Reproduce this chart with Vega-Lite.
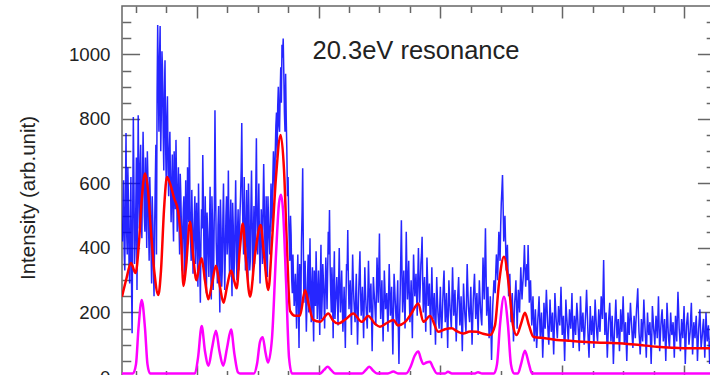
{
  "$schema": "https://vega.github.io/schema/vega-lite/v6.json",
  "width": 593,
  "height": 371,
  "autosize": {"type": "none"},
  "padding": {"left": 122, "top": 6, "right": 0, "bottom": 0},
  "background": "white",
  "config": {
    "font": "Liberation Sans",
    "view": {"stroke": "#666", "strokeWidth": 1.5}
  },
  "title": {
    "text": "20.3eV resonance",
    "orient": "top",
    "anchor": "middle",
    "frame": "group",
    "offset": -79.4,
    "baseline": "alphabetic",
    "dx": -2.5,
    "font": "Liberation Sans",
    "fontSize": 25.5,
    "fontWeight": "normal",
    "color": "#222"
  },
  "datasets": {
    "raw": [
      {"e":11.39,"v":420},{"e":11.395,"v":500},{"e":11.40,"v":610},{"e":11.405,"v":380},{"e":11.41,"v":330},{"e":11.415,"v":560},{"e":11.42,"v":756},{"e":11.425,"v":450},{"e":11.43,"v":380},{"e":11.435,"v":650},
      {"e":11.44,"v":540},{"e":11.445,"v":340},{"e":11.45,"v":290},{"e":11.455,"v":480},{"e":11.46,"v":620},{"e":11.465,"v":300},{"e":11.47,"v":136},{"e":11.475,"v":520},{"e":11.48,"v":806},{"e":11.485,"v":600},
      {"e":11.49,"v":350},{"e":11.495,"v":410},{"e":11.50,"v":520},{"e":11.505,"v":680},{"e":11.51,"v":270},{"e":11.515,"v":560},{"e":11.52,"v":811},{"e":11.525,"v":590},{"e":11.53,"v":460},{"e":11.535,"v":650},
      {"e":11.54,"v":720},{"e":11.545,"v":520},{"e":11.55,"v":430},{"e":11.555,"v":600},{"e":11.56,"v":760},{"e":11.565,"v":640},{"e":11.57,"v":500},{"e":11.575,"v":450},{"e":11.58,"v":680},{"e":11.585,"v":560},
      {"e":11.59,"v":400},{"e":11.595,"v":700},{"e":11.60,"v":610},{"e":11.605,"v":470},{"e":11.61,"v":360},{"e":11.615,"v":620},{"e":11.62,"v":540},{"e":11.625,"v":400},{"e":11.63,"v":290},{"e":11.635,"v":560},
      {"e":11.64,"v":480},{"e":11.645,"v":330},{"e":11.65,"v":250},{"e":11.655,"v":470},{"e":11.66,"v":600},{"e":11.665,"v":720},{"e":11.67,"v":380},{"e":11.675,"v":880},{"e":11.68,"v":1091},{"e":11.685,"v":920},
      {"e":11.69,"v":760},{"e":11.695,"v":990},{"e":11.70,"v":1088},{"e":11.705,"v":700},{"e":11.71,"v":820},{"e":11.715,"v":1010},{"e":11.72,"v":950},{"e":11.725,"v":760},{"e":11.73,"v":640},{"e":11.735,"v":880},
      {"e":11.74,"v":982},{"e":11.745,"v":720},{"e":11.75,"v":600},{"e":11.755,"v":800},{"e":11.76,"v":870},{"e":11.765,"v":640},{"e":11.77,"v":560},{"e":11.775,"v":700},{"e":11.78,"v":760},{"e":11.785,"v":600},
      {"e":11.79,"v":480},{"e":11.795,"v":580},{"e":11.80,"v":690},{"e":11.805,"v":510},{"e":11.81,"v":420},{"e":11.815,"v":700},{"e":11.82,"v":620},{"e":11.825,"v":520},{"e":11.83,"v":735},{"e":11.835,"v":600},
      {"e":11.84,"v":450},{"e":11.845,"v":540},{"e":11.85,"v":650},{"e":11.855,"v":470},{"e":11.86,"v":380},{"e":11.865,"v":630},{"e":11.87,"v":560},{"e":11.875,"v":460},{"e":11.88,"v":330},{"e":11.885,"v":430},
      {"e":11.89,"v":520},{"e":11.895,"v":560},{"e":11.90,"v":300},{"e":11.905,"v":460},{"e":11.91,"v":610},{"e":11.915,"v":350},{"e":11.92,"v":400},{"e":11.925,"v":650},{"e":11.93,"v":560},{"e":11.935,"v":480},
      {"e":11.94,"v":744},{"e":11.945,"v":530},{"e":11.95,"v":420},{"e":11.955,"v":360},{"e":11.96,"v":580},{"e":11.965,"v":470},{"e":11.97,"v":320},{"e":11.975,"v":410},{"e":11.98,"v":490},{"e":11.985,"v":560},
      {"e":11.99,"v":350},{"e":11.995,"v":450},{"e":12.00,"v":540},{"e":12.005,"v":390},{"e":12.01,"v":280},{"e":12.015,"v":600},{"e":12.02,"v":470},{"e":12.025,"v":350},{"e":12.03,"v":230},{"e":12.035,"v":420},
      {"e":12.04,"v":520},{"e":12.045,"v":460},{"e":12.05,"v":688},{"e":12.055,"v":540},{"e":12.06,"v":380},{"e":12.065,"v":300},{"e":12.07,"v":560},{"e":12.075,"v":430},{"e":12.08,"v":260},{"e":12.085,"v":510},
      {"e":12.09,"v":450},{"e":12.095,"v":380},{"e":12.10,"v":310},{"e":12.105,"v":460},{"e":12.11,"v":590},{"e":12.115,"v":350},{"e":12.12,"v":240},{"e":12.125,"v":560},{"e":12.13,"v":480},{"e":12.135,"v":270},
      {"e":12.14,"v":350},{"e":12.145,"v":520},{"e":12.15,"v":827},{"e":12.155,"v":600},{"e":12.16,"v":420},{"e":12.165,"v":350},{"e":12.17,"v":290},{"e":12.175,"v":470},{"e":12.18,"v":530},{"e":12.185,"v":330},
      {"e":12.19,"v":200},{"e":12.195,"v":550},{"e":12.20,"v":460},{"e":12.205,"v":280},{"e":12.21,"v":330},{"e":12.215,"v":490},{"e":12.22,"v":600},{"e":12.225,"v":420},{"e":12.23,"v":270},{"e":12.235,"v":380},
      {"e":12.24,"v":500},{"e":12.245,"v":560},{"e":12.25,"v":380},{"e":12.255,"v":440},{"e":12.26,"v":640},{"e":12.265,"v":430},{"e":12.27,"v":310},{"e":12.275,"v":470},{"e":12.28,"v":550},{"e":12.285,"v":350},
      {"e":12.29,"v":250},{"e":12.295,"v":540},{"e":12.30,"v":470},{"e":12.305,"v":300},{"e":12.31,"v":360},{"e":12.315,"v":480},{"e":12.32,"v":610},{"e":12.325,"v":420},{"e":12.33,"v":300},{"e":12.335,"v":450},
      {"e":12.34,"v":520},{"e":12.345,"v":330},{"e":12.35,"v":410},{"e":12.355,"v":500},{"e":12.36,"v":560},{"e":12.365,"v":640},{"e":12.37,"v":787},{"e":12.375,"v":560},{"e":12.38,"v":450},{"e":12.385,"v":380},
      {"e":12.39,"v":620},{"e":12.395,"v":470},{"e":12.40,"v":330},{"e":12.405,"v":450},{"e":12.41,"v":580},{"e":12.415,"v":420},{"e":12.42,"v":280},{"e":12.425,"v":600},{"e":12.43,"v":500},{"e":12.435,"v":330},
      {"e":12.44,"v":360},{"e":12.445,"v":520},{"e":12.45,"v":640},{"e":12.455,"v":480},{"e":12.46,"v":300},{"e":12.465,"v":420},{"e":12.47,"v":530},{"e":12.475,"v":350},{"e":12.48,"v":410},{"e":12.485,"v":580},
      {"e":12.49,"v":740},{"e":12.495,"v":500},{"e":12.50,"v":380},{"e":12.505,"v":480},{"e":12.51,"v":600},{"e":12.515,"v":420},{"e":12.52,"v":290},{"e":12.525,"v":400},{"e":12.53,"v":520},{"e":12.535,"v":460},
      {"e":12.54,"v":350},{"e":12.545,"v":540},{"e":12.55,"v":660},{"e":12.555,"v":530},{"e":12.56,"v":400},{"e":12.565,"v":330},{"e":12.57,"v":560},{"e":12.575,"v":450},{"e":12.58,"v":310},{"e":12.585,"v":560},
      {"e":12.59,"v":480},{"e":12.595,"v":430},{"e":12.60,"v":380},{"e":12.605,"v":500},{"e":12.61,"v":600},{"e":12.615,"v":530},{"e":12.62,"v":450},{"e":12.625,"v":620},{"e":12.63,"v":700},{"e":12.635,"v":640},
      {"e":12.64,"v":560},{"e":12.645,"v":700},{"e":12.65,"v":780},{"e":12.655,"v":820},{"e":12.66,"v":680},{"e":12.665,"v":840},{"e":12.67,"v":900},{"e":12.675,"v":780},{"e":12.68,"v":760},{"e":12.685,"v":880},
      {"e":12.69,"v":960},{"e":12.695,"v":850},{"e":12.70,"v":1030},{"e":12.705,"v":990},{"e":12.71,"v":1049},{"e":12.715,"v":940},{"e":12.72,"v":820},{"e":12.725,"v":760},{"e":12.73,"v":940},{"e":12.735,"v":800},
      {"e":12.74,"v":700},{"e":12.745,"v":560},{"e":12.75,"v":620},{"e":12.755,"v":500},{"e":12.76,"v":420},{"e":12.765,"v":360},{"e":12.77,"v":500},{"e":12.775,"v":440},{"e":12.78,"v":300},{"e":12.785,"v":260},
      {"e":12.79,"v":380},{"e":12.795,"v":300},{"e":12.80,"v":220},{"e":12.805,"v":260},{"e":12.81,"v":320},{"e":12.815,"v":230},{"e":12.82,"v":150},{"e":12.825,"v":300},{"e":12.83,"v":380},{"e":12.835,"v":220},
      {"e":12.84,"v":90},{"e":12.845,"v":350},{"e":12.85,"v":290},{"e":12.855,"v":200},{"e":12.86,"v":420},{"e":12.865,"v":510},{"e":12.87,"v":647},{"e":12.875,"v":420},{"e":12.88,"v":230},{"e":12.885,"v":300},
      {"e":12.89,"v":360},{"e":12.895,"v":250},{"e":12.90,"v":140},{"e":12.905,"v":230},{"e":12.91,"v":310},{"e":12.915,"v":380},{"e":12.92,"v":200},{"e":12.925,"v":310},{"e":12.93,"v":430},{"e":12.935,"v":260},
      {"e":12.94,"v":170},{"e":12.945,"v":280},{"e":12.95,"v":340},{"e":12.955,"v":200},{"e":12.96,"v":110},{"e":12.965,"v":330},{"e":12.97,"v":270},{"e":12.975,"v":220},{"e":12.98,"v":390},{"e":12.985,"v":290},
      {"e":12.99,"v":180},{"e":12.995,"v":250},{"e":13.00,"v":330},{"e":13.005,"v":240},{"e":13.01,"v":130},{"e":13.015,"v":300},{"e":13.02,"v":410},{"e":13.025,"v":180},{"e":13.03,"v":240},{"e":13.035,"v":350},
      {"e":13.04,"v":300},{"e":13.045,"v":240},{"e":13.05,"v":150},{"e":13.055,"v":280},{"e":13.06,"v":370},{"e":13.065,"v":290},{"e":13.07,"v":210},{"e":13.075,"v":330},{"e":13.08,"v":450},{"e":13.085,"v":380},
      {"e":13.09,"v":518},{"e":13.095,"v":350},{"e":13.10,"v":260},{"e":13.105,"v":200},{"e":13.11,"v":340},{"e":13.115,"v":260},{"e":13.12,"v":120},{"e":13.125,"v":300},{"e":13.13,"v":390},{"e":13.135,"v":180},
      {"e":13.14,"v":230},{"e":13.145,"v":260},{"e":13.15,"v":310},{"e":13.155,"v":240},{"e":13.16,"v":160},{"e":13.165,"v":290},{"e":13.17,"v":400},{"e":13.175,"v":280},{"e":13.18,"v":200},{"e":13.185,"v":260},
      {"e":13.19,"v":330},{"e":13.195,"v":230},{"e":13.20,"v":140},{"e":13.205,"v":210},{"e":13.21,"v":280},{"e":13.215,"v":190},{"e":13.22,"v":90},{"e":13.225,"v":240},{"e":13.23,"v":350},{"e":13.235,"v":330},
      {"e":13.24,"v":456},{"e":13.245,"v":300},{"e":13.25,"v":210},{"e":13.255,"v":250},{"e":13.26,"v":300},{"e":13.265,"v":220},{"e":13.27,"v":130},{"e":13.275,"v":260},{"e":13.28,"v":380},{"e":13.285,"v":300},
      {"e":13.29,"v":240},{"e":13.295,"v":200},{"e":13.30,"v":170},{"e":13.305,"v":250},{"e":13.31,"v":320},{"e":13.315,"v":210},{"e":13.32,"v":100},{"e":13.325,"v":180},{"e":13.33,"v":270},{"e":13.335,"v":330},
      {"e":13.34,"v":390},{"e":13.345,"v":260},{"e":13.35,"v":190},{"e":13.355,"v":230},{"e":13.36,"v":280},{"e":13.365,"v":200},{"e":13.37,"v":120},{"e":13.375,"v":230},{"e":13.38,"v":340},{"e":13.385,"v":270},
      {"e":13.39,"v":220},{"e":13.395,"v":180},{"e":13.40,"v":150},{"e":13.405,"v":260},{"e":13.41,"v":360},{"e":13.415,"v":280},{"e":13.42,"v":200},{"e":13.425,"v":250},{"e":13.43,"v":290},{"e":13.435,"v":190},
      {"e":13.44,"v":80},{"e":13.445,"v":200},{"e":13.45,"v":310},{"e":13.455,"v":270},{"e":13.46,"v":240},{"e":13.465,"v":200},{"e":13.47,"v":160},{"e":13.475,"v":260},{"e":13.48,"v":370},{"e":13.485,"v":300},
      {"e":13.49,"v":230},{"e":13.495,"v":340},{"e":13.50,"v":445},{"e":13.505,"v":280},{"e":13.51,"v":180},{"e":13.515,"v":240},{"e":13.52,"v":300},{"e":13.525,"v":200},{"e":13.53,"v":110},{"e":13.535,"v":220},
      {"e":13.54,"v":330},{"e":13.545,"v":270},{"e":13.55,"v":210},{"e":13.555,"v":230},{"e":13.56,"v":260},{"e":13.565,"v":200},{"e":13.57,"v":140},{"e":13.575,"v":250},{"e":13.58,"v":350},{"e":13.585,"v":270},
      {"e":13.59,"v":190},{"e":13.595,"v":230},{"e":13.60,"v":280},{"e":13.605,"v":170},{"e":13.61,"v":70},{"e":13.615,"v":200},{"e":13.62,"v":320},{"e":13.625,"v":280},{"e":13.63,"v":230},{"e":13.635,"v":190},
      {"e":13.64,"v":160},{"e":13.645,"v":240},{"e":13.65,"v":300},{"e":13.655,"v":150},{"e":13.66,"v":40},{"e":13.665,"v":180},{"e":13.67,"v":260},{"e":13.675,"v":370},{"e":13.68,"v":486},{"e":13.685,"v":330},
      {"e":13.69,"v":200},{"e":13.695,"v":260},{"e":13.70,"v":330},{"e":13.705,"v":240},{"e":13.71,"v":150},{"e":13.715,"v":300},{"e":13.72,"v":450},{"e":13.725,"v":330},{"e":13.73,"v":240},{"e":13.735,"v":290},
      {"e":13.74,"v":360},{"e":13.745,"v":250},{"e":13.75,"v":170},{"e":13.755,"v":230},{"e":13.76,"v":300},{"e":13.765,"v":210},{"e":13.77,"v":120},{"e":13.775,"v":260},{"e":13.78,"v":380},{"e":13.785,"v":310},
      {"e":13.79,"v":250},{"e":13.795,"v":280},{"e":13.80,"v":320},{"e":13.805,"v":250},{"e":13.81,"v":190},{"e":13.815,"v":310},{"e":13.82,"v":400},{"e":13.825,"v":300},{"e":13.83,"v":230},{"e":13.835,"v":280},
      {"e":13.84,"v":350},{"e":13.845,"v":380},{"e":13.85,"v":435},{"e":13.855,"v":300},{"e":13.86,"v":200},{"e":13.865,"v":260},{"e":13.87,"v":310},{"e":13.875,"v":220},{"e":13.88,"v":140},{"e":13.885,"v":250},
      {"e":13.89,"v":370},{"e":13.895,"v":300},{"e":13.90,"v":220},{"e":13.905,"v":250},{"e":13.91,"v":290},{"e":13.915,"v":200},{"e":13.92,"v":130},{"e":13.925,"v":240},{"e":13.93,"v":340},{"e":13.935,"v":250},
      {"e":13.94,"v":180},{"e":13.945,"v":220},{"e":13.95,"v":260},{"e":13.955,"v":180},{"e":13.96,"v":100},{"e":13.965,"v":200},{"e":13.97,"v":310},{"e":13.975,"v":250},{"e":13.98,"v":200},{"e":13.985,"v":170},
      {"e":13.99,"v":150},{"e":13.995,"v":220},{"e":14.00,"v":280},{"e":14.005,"v":190},{"e":14.01,"v":120},{"e":14.015,"v":180},{"e":14.02,"v":240},{"e":14.025,"v":290},{"e":14.03,"v":330},{"e":14.035,"v":240},
      {"e":14.04,"v":170},{"e":14.045,"v":210},{"e":14.05,"v":260},{"e":14.055,"v":180},{"e":14.06,"v":90},{"e":14.065,"v":200},{"e":14.07,"v":300},{"e":14.075,"v":250},{"e":14.08,"v":210},{"e":14.085,"v":180},
      {"e":14.09,"v":150},{"e":14.095,"v":250},{"e":14.10,"v":340},{"e":14.105,"v":260},{"e":14.11,"v":190},{"e":14.115,"v":230},{"e":14.12,"v":270},{"e":14.125,"v":190},{"e":14.13,"v":110},{"e":14.135,"v":170},
      {"e":14.14,"v":230},{"e":14.145,"v":270},{"e":14.15,"v":310},{"e":14.155,"v":230},{"e":14.16,"v":160},{"e":14.165,"v":200},{"e":14.17,"v":250},{"e":14.175,"v":160},{"e":14.18,"v":80},{"e":14.185,"v":190},
      {"e":14.19,"v":290},{"e":14.195,"v":240},{"e":14.20,"v":200},{"e":14.205,"v":170},{"e":14.21,"v":140},{"e":14.215,"v":250},{"e":14.22,"v":350},{"e":14.225,"v":280},{"e":14.23,"v":220},{"e":14.235,"v":190},
      {"e":14.24,"v":170},{"e":14.245,"v":230},{"e":14.25,"v":280},{"e":14.255,"v":190},{"e":14.26,"v":100},{"e":14.265,"v":170},{"e":14.27,"v":240},{"e":14.275,"v":280},{"e":14.28,"v":320},{"e":14.285,"v":250},
      {"e":14.29,"v":180},{"e":14.295,"v":220},{"e":14.30,"v":260},{"e":14.305,"v":190},{"e":14.31,"v":130},{"e":14.315,"v":220},{"e":14.32,"v":300},{"e":14.325,"v":250},{"e":14.33,"v":210},{"e":14.335,"v":180},
      {"e":14.34,"v":160},{"e":14.345,"v":260},{"e":14.35,"v":370},{"e":14.355,"v":300},{"e":14.36,"v":240},{"e":14.365,"v":350},{"e":14.37,"v":461},{"e":14.375,"v":330},{"e":14.38,"v":190},{"e":14.385,"v":230},
      {"e":14.39,"v":280},{"e":14.395,"v":200},{"e":14.40,"v":120},{"e":14.405,"v":190},{"e":14.41,"v":250},{"e":14.415,"v":150},{"e":14.42,"v":53},{"e":14.425,"v":140},{"e":14.43,"v":220},{"e":14.435,"v":260},
      {"e":14.44,"v":300},{"e":14.445,"v":280},{"e":14.45,"v":260},{"e":14.455,"v":330},{"e":14.46,"v":380},{"e":14.465,"v":340},{"e":14.47,"v":300},{"e":14.475,"v":380},{"e":14.48,"v":450},{"e":14.485,"v":400},
      {"e":14.49,"v":360},{"e":14.495,"v":470},{"e":14.50,"v":540},{"e":14.505,"v":580},{"e":14.51,"v":626},{"e":14.515,"v":530},{"e":14.52,"v":420},{"e":14.525,"v":460},{"e":14.53,"v":500},{"e":14.535,"v":420},
      {"e":14.54,"v":330},{"e":14.545,"v":370},{"e":14.55,"v":410},{"e":14.555,"v":330},{"e":14.56,"v":250},{"e":14.565,"v":280},{"e":14.57,"v":320},{"e":14.575,"v":240},{"e":14.58,"v":170},{"e":14.585,"v":210},
      {"e":14.59,"v":260},{"e":14.595,"v":190},{"e":14.60,"v":110},{"e":14.605,"v":170},{"e":14.61,"v":230},{"e":14.615,"v":260},{"e":14.62,"v":300},{"e":14.625,"v":230},{"e":14.63,"v":150},{"e":14.635,"v":210},
      {"e":14.64,"v":270},{"e":14.645,"v":240},{"e":14.65,"v":200},{"e":14.655,"v":270},{"e":14.66,"v":340},{"e":14.665,"v":290},{"e":14.67,"v":240},{"e":14.675,"v":280},{"e":14.68,"v":310},{"e":14.685,"v":350},
      {"e":14.69,"v":409},{"e":14.695,"v":340},{"e":14.70,"v":280},{"e":14.705,"v":320},{"e":14.71,"v":350},{"e":14.715,"v":300},{"e":14.72,"v":409},{"e":14.725,"v":330},{"e":14.73,"v":230},{"e":14.735,"v":260},
      {"e":14.74,"v":300},{"e":14.745,"v":230},{"e":14.75,"v":160},{"e":14.755,"v":200},{"e":14.76,"v":250},{"e":14.765,"v":180},{"e":14.77,"v":110},{"e":14.775,"v":160},{"e":14.78,"v":210},{"e":14.785,"v":150},
      {"e":14.79,"v":90},{"e":14.795,"v":130},{"e":14.80,"v":180},{"e":14.805,"v":210},{"e":14.81,"v":250},{"e":14.815,"v":180},{"e":14.82,"v":120},{"e":14.825,"v":160},{"e":14.83,"v":200},{"e":14.835,"v":140},
      {"e":14.84,"v":60},{"e":14.845,"v":120},{"e":14.85,"v":230},{"e":14.855,"v":190},{"e":14.86,"v":150},{"e":14.865,"v":210},{"e":14.87,"v":270},{"e":14.875,"v":220},{"e":14.88,"v":170},{"e":14.885,"v":130},
      {"e":14.89,"v":100},{"e":14.895,"v":170},{"e":14.90,"v":240},{"e":14.905,"v":190},{"e":14.91,"v":140},{"e":14.915,"v":170},{"e":14.92,"v":200},{"e":14.925,"v":130},{"e":14.93,"v":70},{"e":14.935,"v":150},
      {"e":14.94,"v":260},{"e":14.945,"v":220},{"e":14.95,"v":180},{"e":14.955,"v":150},{"e":14.96,"v":120},{"e":14.965,"v":170},{"e":14.97,"v":220},{"e":14.975,"v":190},{"e":14.98,"v":160},{"e":14.985,"v":210},
      {"e":14.99,"v":280},{"e":14.995,"v":200},{"e":15.00,"v":130},{"e":15.005,"v":160},{"e":15.01,"v":190},{"e":15.015,"v":120},{"e":15.02,"v":50},{"e":15.025,"v":140},{"e":15.03,"v":240},{"e":15.035,"v":200},
      {"e":15.04,"v":170},{"e":15.045,"v":140},{"e":15.05,"v":110},{"e":15.055,"v":160},{"e":15.06,"v":210},{"e":15.065,"v":180},{"e":15.07,"v":150},{"e":15.075,"v":200},{"e":15.08,"v":260},{"e":15.085,"v":170},
      {"e":15.09,"v":90},{"e":15.095,"v":140},{"e":15.10,"v":190},{"e":15.105,"v":160},{"e":15.11,"v":130},{"e":15.115,"v":180},{"e":15.12,"v":230},{"e":15.125,"v":200},{"e":15.13,"v":160},{"e":15.135,"v":120},
      {"e":15.14,"v":80},{"e":15.145,"v":160},{"e":15.15,"v":250},{"e":15.155,"v":190},{"e":15.16,"v":140},{"e":15.165,"v":170},{"e":15.17,"v":200},{"e":15.175,"v":150},{"e":15.18,"v":100},{"e":15.185,"v":130},
      {"e":15.19,"v":180},{"e":15.195,"v":220},{"e":15.20,"v":270},{"e":15.205,"v":210},{"e":15.21,"v":150},{"e":15.215,"v":100},{"e":15.22,"v":60},{"e":15.225,"v":140},{"e":15.23,"v":220},{"e":15.235,"v":170},
      {"e":15.24,"v":130},{"e":15.245,"v":160},{"e":15.25,"v":190},{"e":15.255,"v":140},{"e":15.26,"v":90},{"e":15.265,"v":170},{"e":15.27,"v":240},{"e":15.275,"v":200},{"e":15.28,"v":160},{"e":15.285,"v":130},
      {"e":15.29,"v":110},{"e":15.295,"v":160},{"e":15.30,"v":210},{"e":15.305,"v":170},{"e":15.31,"v":140},{"e":15.315,"v":190},{"e":15.32,"v":250},{"e":15.325,"v":220},{"e":15.33,"v":180},{"e":15.335,"v":260},
      {"e":15.34,"v":363},{"e":15.345,"v":240},{"e":15.35,"v":130},{"e":15.355,"v":170},{"e":15.36,"v":200},{"e":15.365,"v":130},{"e":15.37,"v":60},{"e":15.375,"v":110},{"e":15.38,"v":170},{"e":15.385,"v":200},
      {"e":15.39,"v":230},{"e":15.395,"v":170},{"e":15.40,"v":110},{"e":15.405,"v":150},{"e":15.41,"v":190},{"e":15.415,"v":120},{"e":15.42,"v":40},{"e":15.425,"v":100},{"e":15.43,"v":150},{"e":15.435,"v":190},
      {"e":15.44,"v":240},{"e":15.445,"v":180},{"e":15.45,"v":120},{"e":15.455,"v":150},{"e":15.46,"v":180},{"e":15.465,"v":130},{"e":15.47,"v":80},{"e":15.475,"v":140},{"e":15.48,"v":210},{"e":15.485,"v":170},
      {"e":15.49,"v":140},{"e":15.495,"v":190},{"e":15.50,"v":250},{"e":15.505,"v":180},{"e":15.51,"v":100},{"e":15.515,"v":140},{"e":15.52,"v":170},{"e":15.525,"v":110},{"e":15.53,"v":50},{"e":15.535,"v":120},
      {"e":15.54,"v":200},{"e":15.545,"v":160},{"e":15.55,"v":130},{"e":15.555,"v":180},{"e":15.56,"v":230},{"e":15.565,"v":190},{"e":15.57,"v":160},{"e":15.575,"v":120},{"e":15.58,"v":90},{"e":15.585,"v":140},
      {"e":15.59,"v":190},{"e":15.595,"v":150},{"e":15.60,"v":120},{"e":15.605,"v":170},{"e":15.61,"v":210},{"e":15.615,"v":240},{"e":15.62,"v":275},{"e":15.625,"v":200},{"e":15.63,"v":140},{"e":15.635,"v":110},
      {"e":15.64,"v":70},{"e":15.645,"v":120},{"e":15.65,"v":180},{"e":15.655,"v":150},{"e":15.66,"v":110},{"e":15.665,"v":170},{"e":15.67,"v":240},{"e":15.675,"v":190},{"e":15.68,"v":150},{"e":15.685,"v":110},
      {"e":15.69,"v":60},{"e":15.695,"v":130},{"e":15.70,"v":200},{"e":15.705,"v":160},{"e":15.71,"v":130},{"e":15.715,"v":150},{"e":15.72,"v":170},{"e":15.725,"v":110},{"e":15.73,"v":40},{"e":15.735,"v":120},
      {"e":15.74,"v":220},{"e":15.745,"v":190},{"e":15.75,"v":150},{"e":15.755,"v":130},{"e":15.76,"v":100},{"e":15.765,"v":150},{"e":15.77,"v":190},{"e":15.775,"v":160},{"e":15.78,"v":120},{"e":15.785,"v":180},
      {"e":15.79,"v":250},{"e":15.795,"v":160},{"e":15.80,"v":80},{"e":15.805,"v":120},{"e":15.81,"v":160},{"e":15.815,"v":190},{"e":15.82,"v":210},{"e":15.825,"v":160},{"e":15.83,"v":110},{"e":15.835,"v":140},
      {"e":15.84,"v":180},{"e":15.845,"v":120},{"e":15.85,"v":50},{"e":15.855,"v":130},{"e":15.86,"v":230},{"e":15.865,"v":190},{"e":15.87,"v":140},{"e":15.875,"v":110},{"e":15.88,"v":90},{"e":15.885,"v":140},
      {"e":15.89,"v":200},{"e":15.895,"v":160},{"e":15.90,"v":130},{"e":15.905,"v":150},{"e":15.91,"v":170},{"e":15.915,"v":120},{"e":15.92,"v":60},{"e":15.925,"v":130},{"e":15.93,"v":190},{"e":15.935,"v":150},
      {"e":15.94,"v":110},{"e":15.945,"v":190},{"e":15.95,"v":264},{"e":15.955,"v":210},{"e":15.96,"v":150},{"e":15.965,"v":120},{"e":15.97,"v":80},{"e":15.975,"v":130},{"e":15.98,"v":180},{"e":15.985,"v":150},
      {"e":15.99,"v":120},{"e":15.995,"v":170},{"e":16.00,"v":220},{"e":16.005,"v":140},{"e":16.01,"v":40},{"e":16.015,"v":100},{"e":16.02,"v":160},{"e":16.025,"v":180},{"e":16.03,"v":200},{"e":16.035,"v":150},
      {"e":16.04,"v":100},{"e":16.045,"v":120},{"e":16.05,"v":140},{"e":16.055,"v":190},{"e":16.06,"v":230},{"e":16.065,"v":150},{"e":16.07,"v":70},{"e":16.075,"v":120},{"e":16.08,"v":170},{"e":16.085,"v":140},
      {"e":16.09,"v":120},{"e":16.095,"v":160},{"e":16.10,"v":190},{"e":16.105,"v":130},{"e":16.11,"v":50},{"e":16.115,"v":100},{"e":16.12,"v":150},{"e":16.125,"v":180},{"e":16.13,"v":210},{"e":16.135,"v":150},
      {"e":16.14,"v":90},{"e":16.145,"v":110},{"e":16.15,"v":130},{"e":16.155,"v":160},{"e":16.16,"v":180},{"e":16.165,"v":130},{"e":16.17,"v":60},{"e":16.175,"v":120},{"e":16.18,"v":200},{"e":16.185,"v":150},
      {"e":16.19,"v":110},{"e":16.195,"v":140},{"e":16.20,"v":160},{"e":16.205,"v":110},{"e":16.21,"v":40},{"e":16.215,"v":90},{"e":16.22,"v":140},{"e":16.225,"v":170},{"e":16.23,"v":190},{"e":16.235,"v":140},
      {"e":16.24,"v":80},{"e":16.245,"v":120},{"e":16.25,"v":150}
    ],
    "fit": [
      {"e":11.387,"v":249},{"e":11.420,"v":300},{"e":11.461,"v":353},{"e":11.498,"v":322},{"e":11.527,"v":420},{"e":11.551,"v":560},{"e":11.576,"v":631},{"e":11.600,"v":580},{"e":11.625,"v":450},{"e":11.654,"v":320},
      {"e":11.685,"v":254},{"e":11.707,"v":330},{"e":11.732,"v":520},{"e":11.756,"v":620},{"e":11.781,"v":600},{"e":11.814,"v":555},{"e":11.847,"v":515},{"e":11.871,"v":430},{"e":11.892,"v":282},{"e":11.912,"v":340},
      {"e":11.945,"v":481},{"e":11.970,"v":380},{"e":11.998,"v":300},{"e":12.019,"v":340},{"e":12.041,"v":368},{"e":12.068,"v":300},{"e":12.095,"v":241},{"e":12.126,"v":290},{"e":12.158,"v":345},{"e":12.191,"v":280},
      {"e":12.220,"v":230},{"e":12.249,"v":280},{"e":12.282,"v":330},{"e":12.306,"v":300},{"e":12.328,"v":275},{"e":12.355,"v":400},{"e":12.378,"v":476},{"e":12.405,"v":360},{"e":12.438,"v":249},{"e":12.479,"v":380},
      {"e":12.525,"v":471},{"e":12.552,"v":380},{"e":12.588,"v":270},{"e":12.618,"v":420},{"e":12.651,"v":620},{"e":12.689,"v":750},{"e":12.717,"v":640},{"e":12.741,"v":400},{"e":12.766,"v":205},{"e":12.807,"v":190},
      {"e":12.848,"v":190},{"e":12.889,"v":270},{"e":12.922,"v":220},{"e":12.957,"v":177},{"e":13.012,"v":171},{"e":13.080,"v":197},{"e":13.119,"v":175},{"e":13.162,"v":166},{"e":13.225,"v":180},{"e":13.285,"v":197},
      {"e":13.354,"v":171},{"e":13.408,"v":189},{"e":13.463,"v":165},{"e":13.504,"v":156},{"e":13.562,"v":168},{"e":13.614,"v":177},{"e":13.652,"v":160},{"e":13.710,"v":170},{"e":13.759,"v":195},{"e":13.819,"v":228},
      {"e":13.860,"v":171},{"e":13.915,"v":189},{"e":13.983,"v":140},{"e":14.038,"v":148},{"e":14.093,"v":151},{"e":14.136,"v":142},{"e":14.188,"v":135},{"e":14.243,"v":141},{"e":14.298,"v":140},{"e":14.350,"v":134},
      {"e":14.407,"v":130},{"e":14.448,"v":160},{"e":14.481,"v":290},{"e":14.522,"v":373},{"e":14.563,"v":280},{"e":14.596,"v":160},{"e":14.626,"v":130},{"e":14.662,"v":165},{"e":14.694,"v":199},{"e":14.727,"v":160},
      {"e":14.763,"v":125},{"e":14.859,"v":120},{"e":14.955,"v":115},{"e":15.064,"v":112},{"e":15.228,"v":108},{"e":15.351,"v":106},{"e":15.501,"v":104},{"e":15.638,"v":99},{"e":15.775,"v":94},{"e":15.901,"v":91},
      {"e":16.049,"v":89},{"e":16.196,"v":89},{"e":16.254,"v":88}
    ],
    "sticks": [
      {"e":11.387,"v":11},{"e":11.477,"v":11},{"e":11.502,"v":40},{"e":11.522,"v":150},{"e":11.549,"v":239},{"e":11.576,"v":150},{"e":11.596,"v":40},{"e":11.617,"v":11},
      {"e":11.986,"v":11},{"e":12.011,"v":60},{"e":12.041,"v":158},{"e":12.068,"v":80},{"e":12.097,"v":35},{"e":12.126,"v":90},{"e":12.158,"v":143},{"e":12.187,"v":80},{"e":12.218,"v":35},{"e":12.249,"v":90},{"e":12.282,"v":147},{"e":12.310,"v":70},{"e":12.339,"v":14},{"e":12.355,"v":11},
      {"e":12.470,"v":11},{"e":12.495,"v":40},{"e":12.520,"v":110},{"e":12.542,"v":123},{"e":12.565,"v":75},{"e":12.585,"v":45},{"e":12.618,"v":120},{"e":12.651,"v":380},{"e":12.676,"v":540},{"e":12.692,"v":565},{"e":12.708,"v":520},{"e":12.733,"v":300},{"e":12.758,"v":60},{"e":12.782,"v":11},
      {"e":13.012,"v":11},{"e":13.045,"v":22},{"e":13.075,"v":32},{"e":13.102,"v":22},{"e":13.135,"v":11},
      {"e":13.357,"v":11},{"e":13.389,"v":22},{"e":13.417,"v":32},{"e":13.447,"v":20},{"e":13.480,"v":11},
      {"e":13.570,"v":11},{"e":13.614,"v":17},{"e":13.652,"v":11},
      {"e":13.718,"v":11},{"e":13.759,"v":35},{"e":13.788,"v":65},{"e":13.819,"v":79},{"e":13.841,"v":55},{"e":13.860,"v":40},{"e":13.886,"v":45},{"e":13.915,"v":47},{"e":13.939,"v":30},{"e":13.972,"v":11},
      {"e":14.038,"v":11},{"e":14.062,"v":16},{"e":14.095,"v":11},
      {"e":14.284,"v":11},{"e":14.309,"v":15},{"e":14.342,"v":11},
      {"e":14.440,"v":11},{"e":14.465,"v":40},{"e":14.489,"v":160},{"e":14.522,"v":249},{"e":14.555,"v":160},{"e":14.579,"v":40},{"e":14.604,"v":11},
      {"e":14.637,"v":11},{"e":14.662,"v":40},{"e":14.694,"v":81},{"e":14.727,"v":40},{"e":14.752,"v":11},
      {"e":16.254,"v":11}
    ]
  },
  "resolve": {"axis": {"x": "independent", "y": "independent"}},
  "layer": [
    {
      "data": {"name": "raw"},
      "mark": {"type": "line", "stroke": "#0000ff", "strokeWidth": 1.5, "opacity": 0.85, "clip": true},
      "encoding": {
        "x": {
          "field": "e", "type": "quantitative",
          "scale": {"domain": [11.387, 16.254], "nice": false, "zero": false},
          "axis": {
            "orient": "bottom",
            "values": [11.5, 11.75, 12, 12.25, 12.5, 12.75, 13, 13.25, 13.5, 13.75, 14, 14.25, 14.5, 14.75, 15, 15.25, 15.5, 15.75, 16],
            "labels": false, "title": null, "domain": false, "grid": false,
            "tickColor": "#666", "tickWidth": 1.5,
            "tickSize": {"condition": {"test": "datum.value % 1 === 0", "value": -12}, "value": -6.5}
          }
        },
        "y": {
          "field": "v", "type": "quantitative",
          "scale": {"domain": [0, 1150], "nice": false},
          "axis": {
            "orient": "left",
            "values": [0, 50, 100, 150, 200, 250, 300, 350, 400, 450, 500, 550, 600, 650, 700, 750, 800, 850, 900, 950, 1000, 1050, 1100],
            "format": "d",
            "labelExpr": "datum.value % 200 === 0 ? datum.label : ''",
            "labelOverlap": false, "labelFlush": false,
            "labelFont": "Liberation Sans", "labelFontSize": 18.7, "labelColor": "#222",
            "labelPadding": 29.6,
            "domain": false, "grid": false,
            "tickColor": "#666", "tickWidth": 1.5,
            "tickSize": {"condition": {"test": "datum.value % 200 === 0", "value": -17.6}, "value": -8.8},
            "title": "Intensity (arb.unit)",
            "titleFont": "Liberation Sans", "titleFontSize": 20.5, "titleFontWeight": "normal", "titleColor": "#222",
            "titleAngle": -90, "titleAlign": "center", "titleBaseline": "alphabetic",
            "titleX": -87.5, "titleY": 191.5
          }
        }
      }
    },
    {
      "data": {"name": "fit"},
      "mark": {"type": "line", "stroke": "#ff0000", "strokeWidth": 2.5, "interpolate": "monotone", "clip": true},
      "encoding": {
        "x": {
          "field": "e", "type": "quantitative",
          "scale": {"domain": [11.387, 16.254], "nice": false, "zero": false},
          "axis": {
            "orient": "top",
            "values": [11.5, 11.75, 12, 12.25, 12.5, 12.75, 13, 13.25, 13.5, 13.75, 14, 14.25, 14.5, 14.75, 15, 15.25, 15.5, 15.75, 16],
            "labels": false, "title": null, "domain": false, "grid": false,
            "tickColor": "#666", "tickWidth": 1.5,
            "tickSize": {"condition": {"test": "datum.value % 1 === 0", "value": -12}, "value": -6.5}
          }
        },
        "y": {
          "field": "v", "type": "quantitative",
          "scale": {"domain": [0, 1150], "nice": false},
          "axis": {
            "orient": "right",
            "values": [0, 50, 100, 150, 200, 250, 300, 350, 400, 450, 500, 550, 600, 650, 700, 750, 800, 850, 900, 950, 1000, 1050, 1100],
            "labels": false, "title": null, "domain": false, "grid": false,
            "tickColor": "#666", "tickWidth": 1.5,
            "tickSize": {"condition": {"test": "datum.value % 200 === 0", "value": -17.6}, "value": -8.8}
          }
        }
      }
    },
    {
      "data": {"name": "sticks"},
      "mark": {"type": "line", "stroke": "#ff00ff", "strokeWidth": 2.5, "interpolate": "monotone", "clip": true},
      "encoding": {
        "x": {"field": "e", "type": "quantitative", "scale": {"domain": [11.387, 16.254], "nice": false, "zero": false}, "axis": null},
        "y": {"field": "v", "type": "quantitative", "scale": {"domain": [0, 1150], "nice": false}, "axis": null}
      }
    }
  ]
}
